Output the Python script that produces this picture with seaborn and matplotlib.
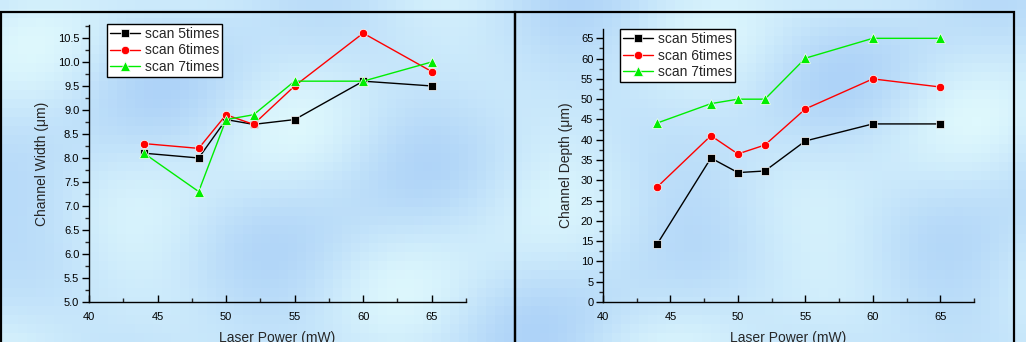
import numpy as np
import pandas as pd
import matplotlib
matplotlib.use("Agg")
import matplotlib.pyplot as plt
from matplotlib.patches import Rectangle
from matplotlib.ticker import MultipleLocator
import seaborn as sns

# ---- data ----
power = [44, 48, 50, 52, 55, 60, 65]
series_names = ["scan 5times", "scan 6times", "scan 7times"]
width_5 = [8.1, 8.0, 8.8, 8.7, 8.8, 9.6, 9.5]
width_6 = [8.3, 8.2, 8.9, 8.7, 9.5, 10.6, 9.8]
width_7 = [8.1, 7.3, 8.8, 8.9, 9.6, 9.6, 10.0]
depth_5 = [14.2, 35.5, 31.9, 32.3, 39.7, 43.9, 43.9]
depth_6 = [28.3, 41.0, 36.5, 38.7, 47.6, 55.0, 53.0]
depth_7 = [44.1, 48.9, 50.0, 50.0, 60.1, 65.0, 65.0]
x_ticks = [40, 45, 50, 55, 60, 65]

def long_df(vals):
    rows = []
    for name, v in zip(series_names, vals):
        for p, y in zip(power, v):
            rows.append({"power": p, "value": y, "series": name})
    return pd.DataFrame(rows)

df_w = long_df([width_5, width_6, width_7])
df_d = long_df([depth_5, depth_6, depth_7])

sns.set_theme(style="white")
plt.rcParams["font.family"] = ["Liberation Sans", "DejaVu Sans"]

W, H = 1026, 342
fig = plt.figure(figsize=(W / 100, H / 100), dpi=100)

# decorative background (deterministic smooth pattern, pixelated)
bg = fig.add_axes([0, 0, 1, 1], zorder=-10)
gy, gx = np.mgrid[0:38, 0:114]
pat = (np.sin(gx / 6.0 + gy / 5.0) + 0.7 * np.cos(gx / 4.0 - gy / 7.0)
       + 0.5 * np.sin(gy / 3.0 + gx / 11.0))
pat = (pat - pat.min()) / (pat.max() - pat.min())
c1 = np.array([0xae, 0xd3, 0xf8]) / 255.0
c2 = np.array([0xde, 0xf8, 0xfd]) / 255.0
img = c1[None, None, :] * (1 - pat[..., None]) + c2[None, None, :] * pat[..., None]
bg.imshow(img, aspect="auto", interpolation="nearest", extent=[0, 1, 0, 1])
bg.set_axis_off()

# panel frames
fig.patches.append(Rectangle((1 / W, -0.05), 514 / W, 1 - 12 / H + 0.05, transform=fig.transFigure,
                             fill=False, edgecolor="black", linewidth=1.6, zorder=5))
fig.patches.append(Rectangle((515 / W, -0.05), 499 / W, 1 - 12 / H + 0.05, transform=fig.transFigure,
                             fill=False, edgecolor="black", linewidth=1.6, zorder=5))

palette = {"scan 5times": "black", "scan 6times": "#ff0000", "scan 7times": "#00ee00"}
markers = {"scan 5times": "s", "scan 6times": "o", "scan 7times": "^"}
msizes = {"scan 5times": 5.5, "scan 6times": 6.0, "scan 7times": 7.0}

def make_panel(rect, df, ylim, ymajor, yminor, ylabel, leg_anchor):
    ax = fig.add_axes(rect)
    ax.patch.set_alpha(0)
    sns.lineplot(data=df, x="power", y="value", hue="series", style="series",
                 palette=palette, markers=markers, dashes=False, markersize=6,
                 linewidth=1.0, markeredgewidth=0.5, ax=ax)
    for line, name in zip(ax.get_lines()[:3], series_names):
        line.set_markersize(msizes[name])
    ax.set_xlim(40, 67.5)
    ax.set_ylim(*ylim)
    ax.set_xticks(x_ticks)
    ax.xaxis.set_minor_locator(MultipleLocator(2.5))
    ax.yaxis.set_major_locator(MultipleLocator(ymajor))
    ax.yaxis.set_minor_locator(MultipleLocator(yminor))
    for s in ["top", "right"]:
        ax.spines[s].set_visible(False)
    for s in ["left", "bottom"]:
        ax.spines[s].set_color("black")
        ax.spines[s].set_linewidth(1.0)
    ax.tick_params(axis="x", which="major", direction="in", length=5, width=1,
                   labelsize=8, pad=7, colors="black", bottom=True)
    ax.tick_params(axis="x", which="minor", direction="in", length=3, width=1, bottom=True)
    ax.tick_params(axis="y", which="major", direction="out", length=5, width=1,
                   labelsize=8, pad=2, colors="black", left=True)
    ax.tick_params(axis="y", which="minor", direction="out", length=3, width=1, left=True)
    ax.set_xlabel("Laser Power (mW)", fontsize=10, labelpad=7)
    ax.set_ylabel(ylabel, fontsize=10, labelpad=6)
    leg = ax.legend(loc="upper left", bbox_to_anchor=leg_anchor, fontsize=10,
                    frameon=True, fancybox=False, edgecolor="black", handlelength=2.2,
                    borderpad=0.2, labelspacing=0.2, handletextpad=0.3, borderaxespad=0)
    leg.get_frame().set_linewidth(1.0)
    leg.get_frame().set_facecolor("white")
    leg.get_frame().set_alpha(1)
    for h, name in zip(leg.get_lines(), series_names):
        h.set_markersize(msizes[name])
    return ax

ax1 = make_panel([89 / W, 1 - 302 / H, 377 / W, 277 / H], df_w, (5.0, 10.77), 0.5, 0.25,
                 "Channel Width (\u03bcm)", (0.048, 1.004))
ax1.set_yticks(np.arange(5.0, 10.51, 0.5))
ax1.set_yticklabels([f"{v:.1f}" for v in np.arange(5.0, 10.51, 0.5)])
ax2 = make_panel([603 / W, 1 - 302 / H, 371 / W, 273 / H], df_d, (0, 67.3), 5, 2.5,
                 "Channel Depth (\u03bcm)", (0.046, 1.0))

fig.savefig("out.png", dpi=100)
